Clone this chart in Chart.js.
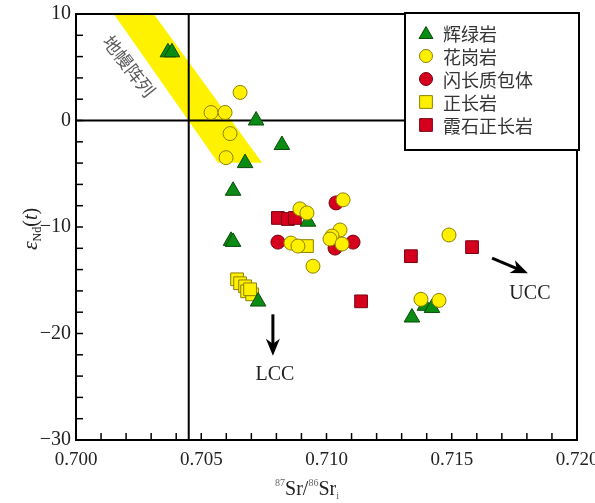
<!DOCTYPE html>
<html><head><meta charset="utf-8">
<script src="https://cdn.jsdelivr.net/npm/chart.js@4/dist/chart.umd.min.js"></script>
<style>html,body{margin:0;padding:0;background:#fff}#wrap{width:595px;height:503px}</style>
</head><body><div id="wrap"><canvas id="c" width="595" height="503"></canvas></div>
<script>
// ---- data ----
const seriesNames = ['辉绿岩','花岗岩','闪长质包体','正长岩','霞石正长岩'];
const diabaseX = [0.70367,0.70383,0.70719,0.70822,0.70675,0.70627,0.70619,0.70627,0.70727,0.70926,0.71341,0.71393,0.71421];
const diabaseY = [6.4,6.4,0.0,-2.3,-4.0,-6.6,-11.3,-11.4,-17.0,-9.5,-18.5,-17.4,-17.6];
const graniteX = [0.70655,0.70539,0.70595,0.70615,0.70599,0.70894,0.70922,0.71066,0.70858,0.70886,0.70946,0.71054,0.71022,0.71014,0.71062,0.71489,0.71377,0.71449];
const graniteY = [2.64,0.75,0.75,-1.23,-3.49,-8.30,-8.68,-7.45,-11.51,-11.79,-13.68,-10.28,-10.85,-11.13,-11.60,-10.75,-16.79,-16.89];
const enclaveX = [0.71038,0.70806,0.71034,0.71106];
const enclaveY = [-7.74,-11.42,-11.98,-11.42];
const syeniteX = [0.70922,0.70643,0.70655,0.70675,0.70683,0.70703,0.70695];
const syeniteY = [-11.79,-14.91,-15.28,-15.57,-16.04,-16.32,-15.85];
const nephX = [0.70806,0.70846,0.70874,0.71138,0.71337,0.71581];
const nephY = [-9.15,-9.25,-9.15,-16.98,-12.74,-11.89];
// mantle array band (data coords)
const bandX = [0.70136,0.70295,0.70743,0.70567];
const bandY = [10.5,10.5,-3.96,-3.96];
const bandLabel = {text:'地幔阵列', x:0.70212, y:5.1};
const refLineX = 0.7045, refLineY = 0;
const lccArrow = {x1:0.70786,y1:-18.2,x2:0.70786,y2:-22.1,label:'LCC',lx:0.70794,ly:-23.9};
const uccArrow = {x1:0.71661,y1:-12.92,x2:0.71804,y2:-14.34,label:'UCC',lx:0.71812,ly:-16.3};
const xTicks = [0.700,0.705,0.710,0.715,0.720];
const yTicks = [-30,-20,-10,0,10];

const pts = (xs,ys)=>xs.map((v,i)=>({x:v,y:ys[i]}));
const SERIF = '"Liberation Serif","DejaVu Serif",serif';
const CJK = '"Noto Sans CJK SC","Noto Sans",sans-serif';

const styles = [
  {pointStyle:'triangle', pointRadius:9, backgroundColor:'#0a8c14', borderColor:'#0a4a0a', order:3},
  {pointStyle:'circle', pointRadius:7, backgroundColor:'#fff000', borderColor:'#8c8000', order:0},
  {pointStyle:'circle', pointRadius:7, backgroundColor:'#d4001e', borderColor:'#7a0010', order:1},
  {pointStyle:'rect', pointRadius:9, backgroundColor:'#fff000', borderColor:'#8c8000', order:4},
  {pointStyle:'rect', pointRadius:9, backgroundColor:'#d4001e', borderColor:'#7a0010', order:2}
];
const dataSets = [pts(diabaseX,diabaseY),pts(graniteX,graniteY),pts(enclaveX,enclaveY),pts(syeniteX,syeniteY),pts(nephX,nephY)];
const datasets = dataSets.map((d,i)=>Object.assign({label:seriesNames[i], data:d, borderWidth:1, pointHoverRadius:styles[i].pointRadius}, styles[i]));

function drawMarker(ctx, st, x, y){
  const r = st.pointRadius;
  ctx.save();
  ctx.fillStyle = st.backgroundColor; ctx.strokeStyle = st.borderColor; ctx.lineWidth = 1;
  ctx.beginPath();
  if(st.pointStyle==='circle'){ ctx.arc(x,y,r,0,Math.PI*2); }
  else if(st.pointStyle==='rect'){ const s=r*Math.SQRT1_2; ctx.rect(x-s,y-s,2*s,2*s); }
  else { ctx.moveTo(x, y-r); ctx.lineTo(x+r*Math.sin(2*Math.PI/3), y-r*Math.cos(2*Math.PI/3)); ctx.lineTo(x+r*Math.sin(4*Math.PI/3), y-r*Math.cos(4*Math.PI/3)); ctx.closePath(); }
  ctx.fill(); ctx.stroke(); ctx.restore();
}

function arrow(ctx,x1,y1,x2,y2){
  const ang = Math.atan2(y2-y1,x2-x1), L=17, W=7;
  ctx.save(); ctx.strokeStyle='#000'; ctx.fillStyle='#000'; ctx.lineWidth=3;
  ctx.beginPath(); ctx.moveTo(x1,y1); ctx.lineTo(x2-Math.cos(ang)*L*0.7, y2-Math.sin(ang)*L*0.7); ctx.stroke();
  ctx.translate(x2,y2); ctx.rotate(ang);
  ctx.beginPath(); ctx.moveTo(0,0); ctx.lineTo(-L,-W); ctx.lineTo(-L*0.72,0); ctx.lineTo(-L,W); ctx.closePath(); ctx.fill();
  ctx.restore();
}

const overlay = {
  id:'overlay',
  beforeDatasetsDraw(chart){
    const {ctx, chartArea:a, scales:{x,y}} = chart;
    ctx.save();
    ctx.beginPath(); ctx.rect(a.left,a.top,a.right-a.left,a.bottom-a.top); ctx.clip();
    ctx.beginPath();
    bandX.forEach((v,i)=>{const px=x.getPixelForValue(v), py=y.getPixelForValue(bandY[i]); i?ctx.lineTo(px,py):ctx.moveTo(px,py);});
    ctx.closePath(); ctx.fillStyle='#fff200'; ctx.fill();
    ctx.save();
    ctx.translate(x.getPixelForValue(bandLabel.x), y.getPixelForValue(bandLabel.y));
    ctx.rotate(52*Math.PI/180);
    ctx.font = '18px '+CJK; ctx.fillStyle='#5a5a5a'; ctx.textAlign='center'; ctx.textBaseline='middle';
    ctx.fillText(bandLabel.text,0,0);
    ctx.restore();
    ctx.strokeStyle='#000'; ctx.lineWidth=2;
    const hy = y.getPixelForValue(refLineY), vx = x.getPixelForValue(refLineX);
    ctx.beginPath(); ctx.moveTo(a.left,hy); ctx.lineTo(a.right,hy); ctx.stroke();
    ctx.beginPath(); ctx.moveTo(vx,a.top); ctx.lineTo(vx,a.bottom); ctx.stroke();
    ctx.restore();
  },
  afterDatasetsDraw(chart){
    const {ctx, chartArea:a, scales:{x,y}} = chart;
    ctx.save();
    ctx.strokeStyle='#000'; ctx.lineWidth=1.5;
    for(let k=0;k<=20;k++){ const px = x.getPixelForValue(0.700+k*0.001); ctx.beginPath(); ctx.moveTo(px,a.bottom); ctx.lineTo(px,a.bottom-7); ctx.stroke(); }
    for(let v=-30; v<=10; v+=2){ const py = y.getPixelForValue(v); ctx.beginPath(); ctx.moveTo(a.left,py); ctx.lineTo(a.left+7,py); ctx.stroke(); }
    ctx.lineWidth=2; ctx.strokeRect(a.left,a.top,a.right-a.left,a.bottom-a.top);
    [lccArrow,uccArrow].forEach(ar=>{
      arrow(ctx,x.getPixelForValue(ar.x1),y.getPixelForValue(ar.y1),x.getPixelForValue(ar.x2),y.getPixelForValue(ar.y2));
      ctx.font='20px '+SERIF; ctx.fillStyle='#222'; ctx.textAlign='center'; ctx.textBaseline='middle';
      ctx.fillText(ar.label, x.getPixelForValue(ar.lx), y.getPixelForValue(ar.ly));
    });
    // legend
    const lx0 = 405, ly0 = a.top-1, lw = a.right+2-lx0, lh = 137;
    ctx.fillStyle='#fff'; ctx.fillRect(lx0,ly0,lw,lh);
    ctx.strokeStyle='#000'; ctx.lineWidth=2; ctx.strokeRect(lx0,ly0,lw,lh);
    seriesNames.forEach((n,i)=>{
      const cy = ly0+20+i*23;
      const st = Object.assign({}, styles[i]);
      if(st.pointStyle==='triangle') st.pointRadius=8; else if(st.pointStyle==='circle') st.pointRadius=6.5; else st.pointRadius=9;
      drawMarker(ctx, st, 426, cy + (st.pointStyle==='triangle'?1.5:0));
      ctx.font='18px '+CJK; ctx.fillStyle='#333'; ctx.textAlign='left'; ctx.textBaseline='middle';
      ctx.fillText(n, 443, cy+1);
    });
    // y title
    ctx.save();
    ctx.translate(30,(a.top+a.bottom)/2+2); ctx.rotate(-Math.PI/2);
    const parts = [['ε','italic 22px '+SERIF,0],['Nd','12px '+SERIF,4],['(','20px '+SERIF,0],['t','italic 20px '+SERIF,0],[')','20px '+SERIF,0]];
    let tw=0; parts.forEach(p=>{ctx.font=p[1]; tw+=ctx.measureText(p[0]).width;});
    let cx=-tw/2; ctx.fillStyle='#222'; ctx.textBaseline='alphabetic'; ctx.textAlign='left';
    parts.forEach(p=>{ctx.font=p[1]; ctx.fillText(p[0],cx,7+p[2]); cx+=ctx.measureText(p[0]).width;});
    ctx.restore();
    // x title
    const xp = [['87','10px '+SERIF,-9,'#666'],['Sr/','20px '+SERIF,0,'#222'],['86','10px '+SERIF,-9,'#666'],['Sr','20px '+SERIF,0,'#222'],['i','10px '+SERIF,4,'#666']];
    tw=0; xp.forEach(p=>{ctx.font=p[1]; tw+=ctx.measureText(p[0]).width;});
    cx = 307-tw/2; ctx.textBaseline='alphabetic'; ctx.textAlign='left';
    xp.forEach(p=>{ctx.font=p[1]; ctx.fillStyle=p[3]; ctx.fillText(p[0],cx,495+p[2]); cx+=ctx.measureText(p[0]).width;});
    ctx.restore();
  }
};

new Chart(document.getElementById('c'), {
  type:'scatter',
  data:{datasets},
  plugins:[overlay],
  options:{
    responsive:false, animation:false, devicePixelRatio:1,
    layout:{padding:{top:14,right:18,left:0,bottom:0}, autoPadding:false},
    plugins:{legend:{display:false}, tooltip:{enabled:false}},
    scales:{
      x:{type:'linear', min:0.700, max:0.720,
         afterBuildTicks:s=>{s.ticks = xTicks.map(v=>({value:v}));},
         afterFit:s=>{s.height=63; s.paddingLeft=0; s.paddingRight=0;},
         grid:{display:false, drawTicks:false}, border:{display:false},
         ticks:{padding:9, color:'#222', font:{family:SERIF,size:19}, callback:v=>Number(v).toFixed(3), maxRotation:0}},
      y:{type:'linear', min:-30, max:10,
         afterBuildTicks:s=>{s.ticks = yTicks.map(v=>({value:v}));},
         afterFit:s=>{s.width=76; s.paddingTop=0; s.paddingBottom=0;},
         grid:{display:false, drawTicks:false}, border:{display:false},
         ticks:{padding:5, color:'#222', font:{family:SERIF,size:20}, callback:v=>v<0?'\u2212'+Math.abs(v):String(v)}}
    }
  }
});
</script></body></html>
